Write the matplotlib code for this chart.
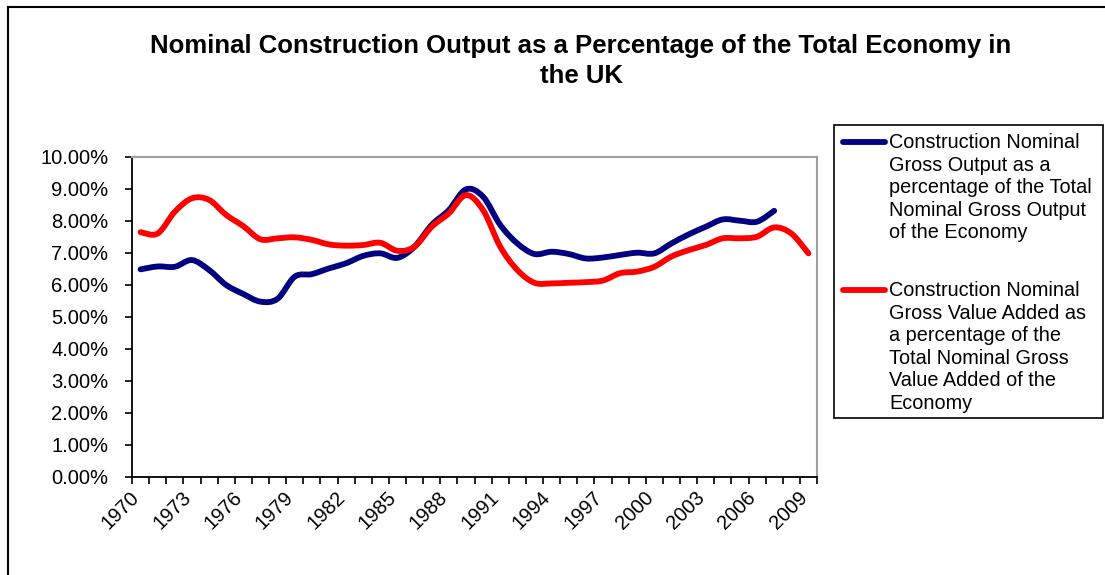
import matplotlib.pyplot as plt
import matplotlib.transforms as mtransforms
import numpy as np
from matplotlib.path import Path
from matplotlib.patches import PathPatch, Rectangle
from matplotlib.lines import Line2D

plt.rcParams['font.family'] = ['Liberation Sans', 'DejaVu Sans']

# data (percent)
years = list(range(1970, 2010))
gross_output_years = list(range(1970, 2008))
gross_output_pct = [6.48, 6.57, 6.56, 6.77, 6.46, 5.99, 5.71, 5.47, 5.56, 6.25,
                    6.33, 6.51, 6.67, 6.90, 6.98, 6.84, 7.19, 7.87, 8.33, 8.98,
                    8.75, 7.87, 7.29, 6.96, 7.03, 6.96, 6.82, 6.85, 6.93, 7.00,
                    6.98, 7.29, 7.57, 7.81, 8.04, 8.00, 7.97, 8.31]
gva_pct = [7.64, 7.60, 8.28, 8.70, 8.65, 8.18, 7.83, 7.42, 7.45, 7.48,
           7.40, 7.26, 7.22, 7.24, 7.31, 7.06, 7.19, 7.81, 8.23, 8.80,
           8.33, 7.19, 6.46, 6.06, 6.04, 6.06, 6.08, 6.13, 6.36, 6.41,
           6.56, 6.88, 7.08, 7.24, 7.45, 7.45, 7.50, 7.79, 7.60, 6.98]

title = 'Nominal Construction Output as a Percentage of the Total Economy in\nthe UK'
label_output = ('Construction Nominal\nGross Output as a\npercentage of the Total\n'
                'Nominal Gross Output\nof the Economy')
label_gva = ('Construction Nominal\nGross Value Added as\na percentage of the\n'
             'Total Nominal Gross\nValue Added of the\nEconomy')

BLUE = '#000080'
RED = '#FF0000'


def smooth_path(xs, ys):
    """Excel-style smoothed line: cubic Bezier segments through the points."""
    pts = np.column_stack([xs, ys]).astype(float)
    n = len(pts)
    verts = [pts[0]]
    codes = [Path.MOVETO]
    for i in range(n - 1):
        p0 = pts[i - 1] if i > 0 else pts[i]
        p1, p2 = pts[i], pts[i + 1]
        p3 = pts[i + 2] if i + 2 < n else pts[i + 1]
        c1 = p1 + (p2 - p0) / 6.0
        c2 = p2 - (p3 - p1) / 6.0
        verts += [c1, c2, p2]
        codes += [Path.CURVE4] * 3
    return Path(verts, codes)


fig = plt.figure(figsize=(11.05, 5.75), dpi=100)
ax = fig.add_axes([132 / 1105, 1 - 476.7 / 575, 685 / 1105, 320 / 575])

for xs, ys, col in [(gross_output_years, gross_output_pct, BLUE),
                    (years, gva_pct, RED)]:
    ax.add_patch(PathPatch(smooth_path(xs, ys), fill=False, edgecolor=col,
                           lw=4.2, capstyle='round', joinstyle='round'))

ax.set_xlim(years[0] - 0.5, years[-1] + 0.5)
ax.set_ylim(0, 10)
ax.set_yticks(np.arange(0, 10.01, 1))
ax.set_yticklabels([f'{v:.2f}%' for v in np.arange(0, 10.01, 1)], fontsize=14.5)

# category axis: tick marks between categories, labels at every third category
ax.set_xticks(np.arange(years[0] - 0.5, years[-1] + 0.51, 1))
ax.set_xticklabels([])
ax.set_xticks(years[::3], minor=True)
ax.set_xticklabels([str(y) for y in years[::3]], minor=True, rotation=45,
                   ha='right', va='center', rotation_mode='anchor', fontsize=14.5)
ax.tick_params(axis='x', which='minor', length=0, pad=13)
ax.tick_params(axis='both', which='major', length=5, width=1.2, color='black', direction='out')
ax.tick_params(axis='y', which='major', pad=12)
shift = mtransforms.ScaledTranslation(-4 / 100, 0, fig.dpi_scale_trans)
for lbl in ax.get_xticklabels(minor=True):
    lbl.set_transform(lbl.get_transform() + shift)

ax.spines['left'].set_linewidth(1.3)
ax.spines['bottom'].set_linewidth(1.3)
for s in ['top', 'right']:
    ax.spines[s].set_color('#a0a0a0')
    ax.spines[s].set_linewidth(1.5)

fig.text(581 / 1105, 1 - 34 / 575, title, ha='center', va='top', fontsize=18.5,
         fontweight='bold', linespacing=1.3)

# legend box
fig.patches.append(Rectangle((834 / 1105, 1 - 418 / 575), 269 / 1105, 293 / 575,
                             transform=fig.transFigure, fill=False, edgecolor='black', lw=1.2))
for y_top, col, lab in [(142, BLUE, label_output), (290, RED, label_gva)]:
    fig.lines.append(Line2D([843 / 1105, 885 / 1105], [1 - y_top / 575] * 2,
                            transform=fig.transFigure, color=col, lw=4.2,
                            solid_capstyle='round'))
    fig.text(889 / 1105, 1 - (y_top - 9) / 575, lab, ha='left', va='top',
             fontsize=14.3, linespacing=1.24)

# outer chart frame (top and left edges visible)
fig.lines.append(Line2D([8 / 1105, 1], [1 - 7 / 575] * 2, transform=fig.transFigure,
                        color='black', lw=1.5))
fig.lines.append(Line2D([8 / 1105] * 2, [0, 1 - 7 / 575], transform=fig.transFigure,
                        color='black', lw=1.5))

fig.savefig('out.png', dpi=100)
